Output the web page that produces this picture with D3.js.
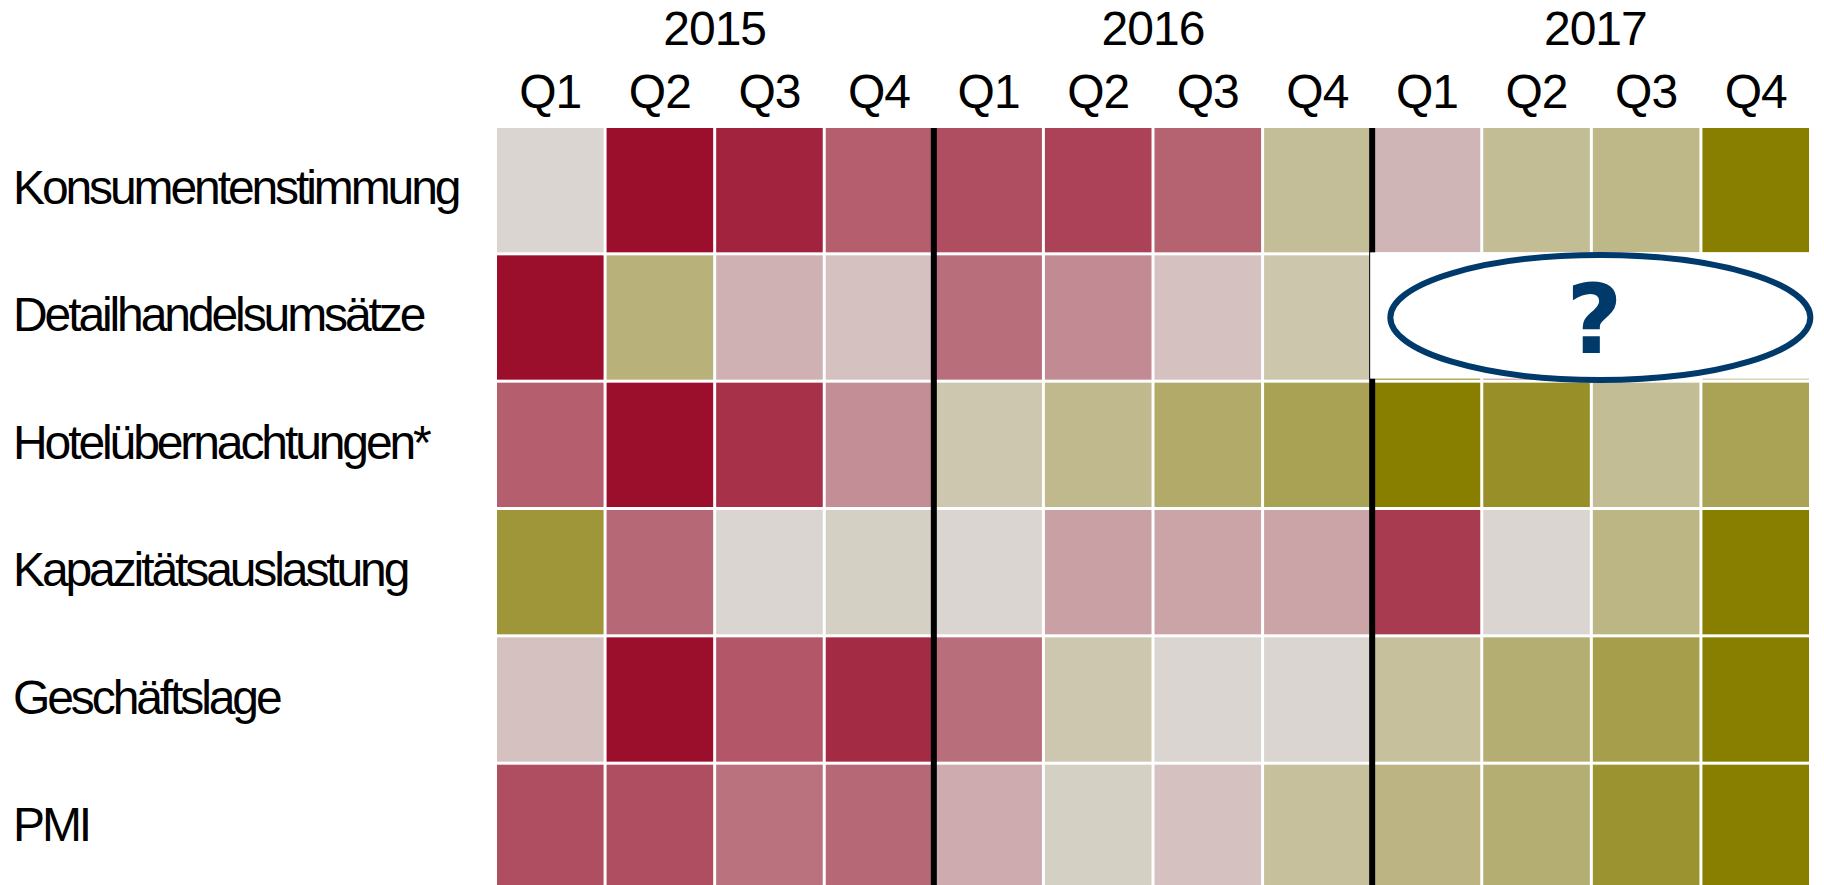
<!DOCTYPE html>
<html>
<head>
<meta charset="utf-8">
<script src="https://cdn.jsdelivr.net/npm/d3@7"></script>
<style>
  html, body { margin: 0; padding: 0; background: #fff; overflow: hidden; }
  #heatmap { width: 1824px; height: 885px; }
  .rowLabel { font-family: "Liberation Sans", Arial, sans-serif; font-size: 48px; letter-spacing: -3.1px; fill: #000; }
  .colLabel { font-family: "Liberation Sans", Arial, sans-serif; font-size: 48px; letter-spacing: -1px; fill: #000; }
  .question { font-family: "DejaVu Sans", sans-serif; font-weight: bold; font-size: 97px; fill: #003a6b; }
</style>
</head>
<body>
<div id="heatmap"><svg width="1824" height="885"></svg></div>
<script>
// data: indicator scores per quarter, -1 (weak) .. +1 (strong)
const indicators = ["Konsumentenstimmung", "Detailhandelsumsätze", "Hotelübernachtungen*",
                    "Kapazitätsauslastung", "Geschäftslage", "PMI"];
const years = ["2015", "2016", "2017"];
const quarters = ["Q1", "Q2", "Q3", "Q4"];

const konsumentenstimmung = [0, -1, -0.9, -0.6, -0.68, -0.74, -0.58, 0.27, -0.16, 0.28, 0.34, 1];
const detailhandel        = [-1, 0.42, -0.18, -0.1, -0.52, -0.38, -0.1, 0.17, 0.95, -0.38, null, 0.24];
const hotel               = [-0.6, -1, -0.83, -0.36, 0.16, 0.32, 0.5, 0.6, 1, 0.81, 0.28, 0.59];
const kapazitaet          = [0.73, -0.55, 0, 0.06, 0, -0.27, -0.25, -0.25, -0.78, 0, 0.36, 1];
const geschaeftslage      = [-0.1, -1, -0.64, -0.86, -0.52, 0.16, 0, 0, 0.25, 0.45, 0.64, 1];
const pmi                 = [-0.68, -0.68, -0.5, -0.55, -0.21, 0.06, -0.1, 0.25, 0.37, 0.45, 0.77, 1];

// 2017 retail figures are masked by the "?" marker
const maskedRow = "Detailhandelsumsätze";
const maskedYear = "2017";

function drawHeatmap() {
  const svg = d3.select("#heatmap").select("svg");

  const rows = [konsumentenstimmung, detailhandel, hotel, kapazitaet, geschaeftslage, pmi];
  const periods = years.flatMap(y => quarters.map(q => y + " " + q));

  const cells = [];
  rows.forEach((vals, i) => {
    vals.forEach((v, j) => {
      if (v !== null) cells.push({row: indicators[i], period: periods[j], value: v});
    });
  });

  // scales
  const x = d3.scaleBand()
      .domain(periods)
      .range([497, 1809])
      .paddingInner(0.0274);

  const y = d3.scaleBand()
      .domain(indicators)
      .range([128, 889])
      .paddingInner(0.0236);

  const colour = d3.scaleLinear()
      .domain([-1, 0, 1])
      .range(["#9b0f2d", "#dad5d0", "#887f00"]);

  const gapX = x.step() - x.bandwidth();
  const gapY = y.step() - y.bandwidth();

  // cells
  svg.append("g")
      .attr("class", "cells")
    .selectAll("rect")
    .data(cells)
      .enter()
    .append("rect")
      .attr("x", d => x(d.period))
      .attr("y", d => y(d.row))
      .attr("width", x.bandwidth())
      .attr("height", y.bandwidth())
      .attr("fill", d => colour(d.value));

  // year separators
  const sepX = years.slice(1).map(yr => x(yr + " Q1") - gapX / 2);

  svg.append("g")
      .attr("class", "separators")
    .selectAll("line")
    .data(sepX)
      .enter()
    .append("line")
      .attr("x1", d => d)
      .attr("x2", d => d)
      .attr("y1", y.range()[0])
      .attr("y2", 885)
      .attr("stroke", "#000")
      .attr("stroke-width", 6);

  // row labels
  svg.append("g")
    .selectAll("text")
    .data(indicators)
      .enter()
    .append("text")
      .attr("class", "rowLabel")
      .attr("x", 13)
      .attr("y", d => y(d) + y.bandwidth() / 2 + 14)
      .text(d => d);

  // quarter labels
  svg.append("g")
    .selectAll("text")
    .data(periods)
      .enter()
    .append("text")
      .attr("class", "colLabel")
      .attr("x", d => x(d) + x.bandwidth() / 2)
      .attr("y", 108)
      .attr("text-anchor", "middle")
      .text(d => d.split(" ")[1]);

  // year labels
  svg.append("g")
    .selectAll("text")
    .data(years)
      .enter()
    .append("text")
      .attr("class", "colLabel")
      .attr("x", d => (x(d + " Q1") + x(d + " Q4") + x.bandwidth()) / 2 + (d === "2017" ? 4 : 0))
      .attr("y", 45)
      .attr("text-anchor", "middle")
      .text(d => d);

  // mask with question mark
  const mx0 = x(maskedYear + " Q1") - gapX / 2 - 2;
  const my0 = y(maskedRow) - gapY;
  const mx1 = x(maskedYear + " Q4") + x.bandwidth();
  const cx = (x(maskedYear + " Q1") + mx1) / 2 + 9;
  const cy = y(maskedRow) + y.bandwidth() / 2;

  const mask = svg.append("g").attr("class", "mask");

  mask.append("rect")
      .attr("x", mx0)
      .attr("y", my0)
      .attr("width", 1824 - mx0)
      .attr("height", y.bandwidth() + gapY - 1)
      .attr("fill", "#fff");

  mask.append("ellipse")
      .attr("cx", cx)
      .attr("cy", cy)
      .attr("rx", 210)
      .attr("ry", 62.5)
      .attr("fill", "none")
      .attr("stroke", "#003a6b")
      .attr("stroke-width", 6);

  mask.append("text")
      .attr("class", "question")
      .attr("x", cx - 6)
      .attr("y", cy + 36)
      .attr("text-anchor", "middle")
      .text("?");
}

drawHeatmap();
</script>
</body>
</html>
